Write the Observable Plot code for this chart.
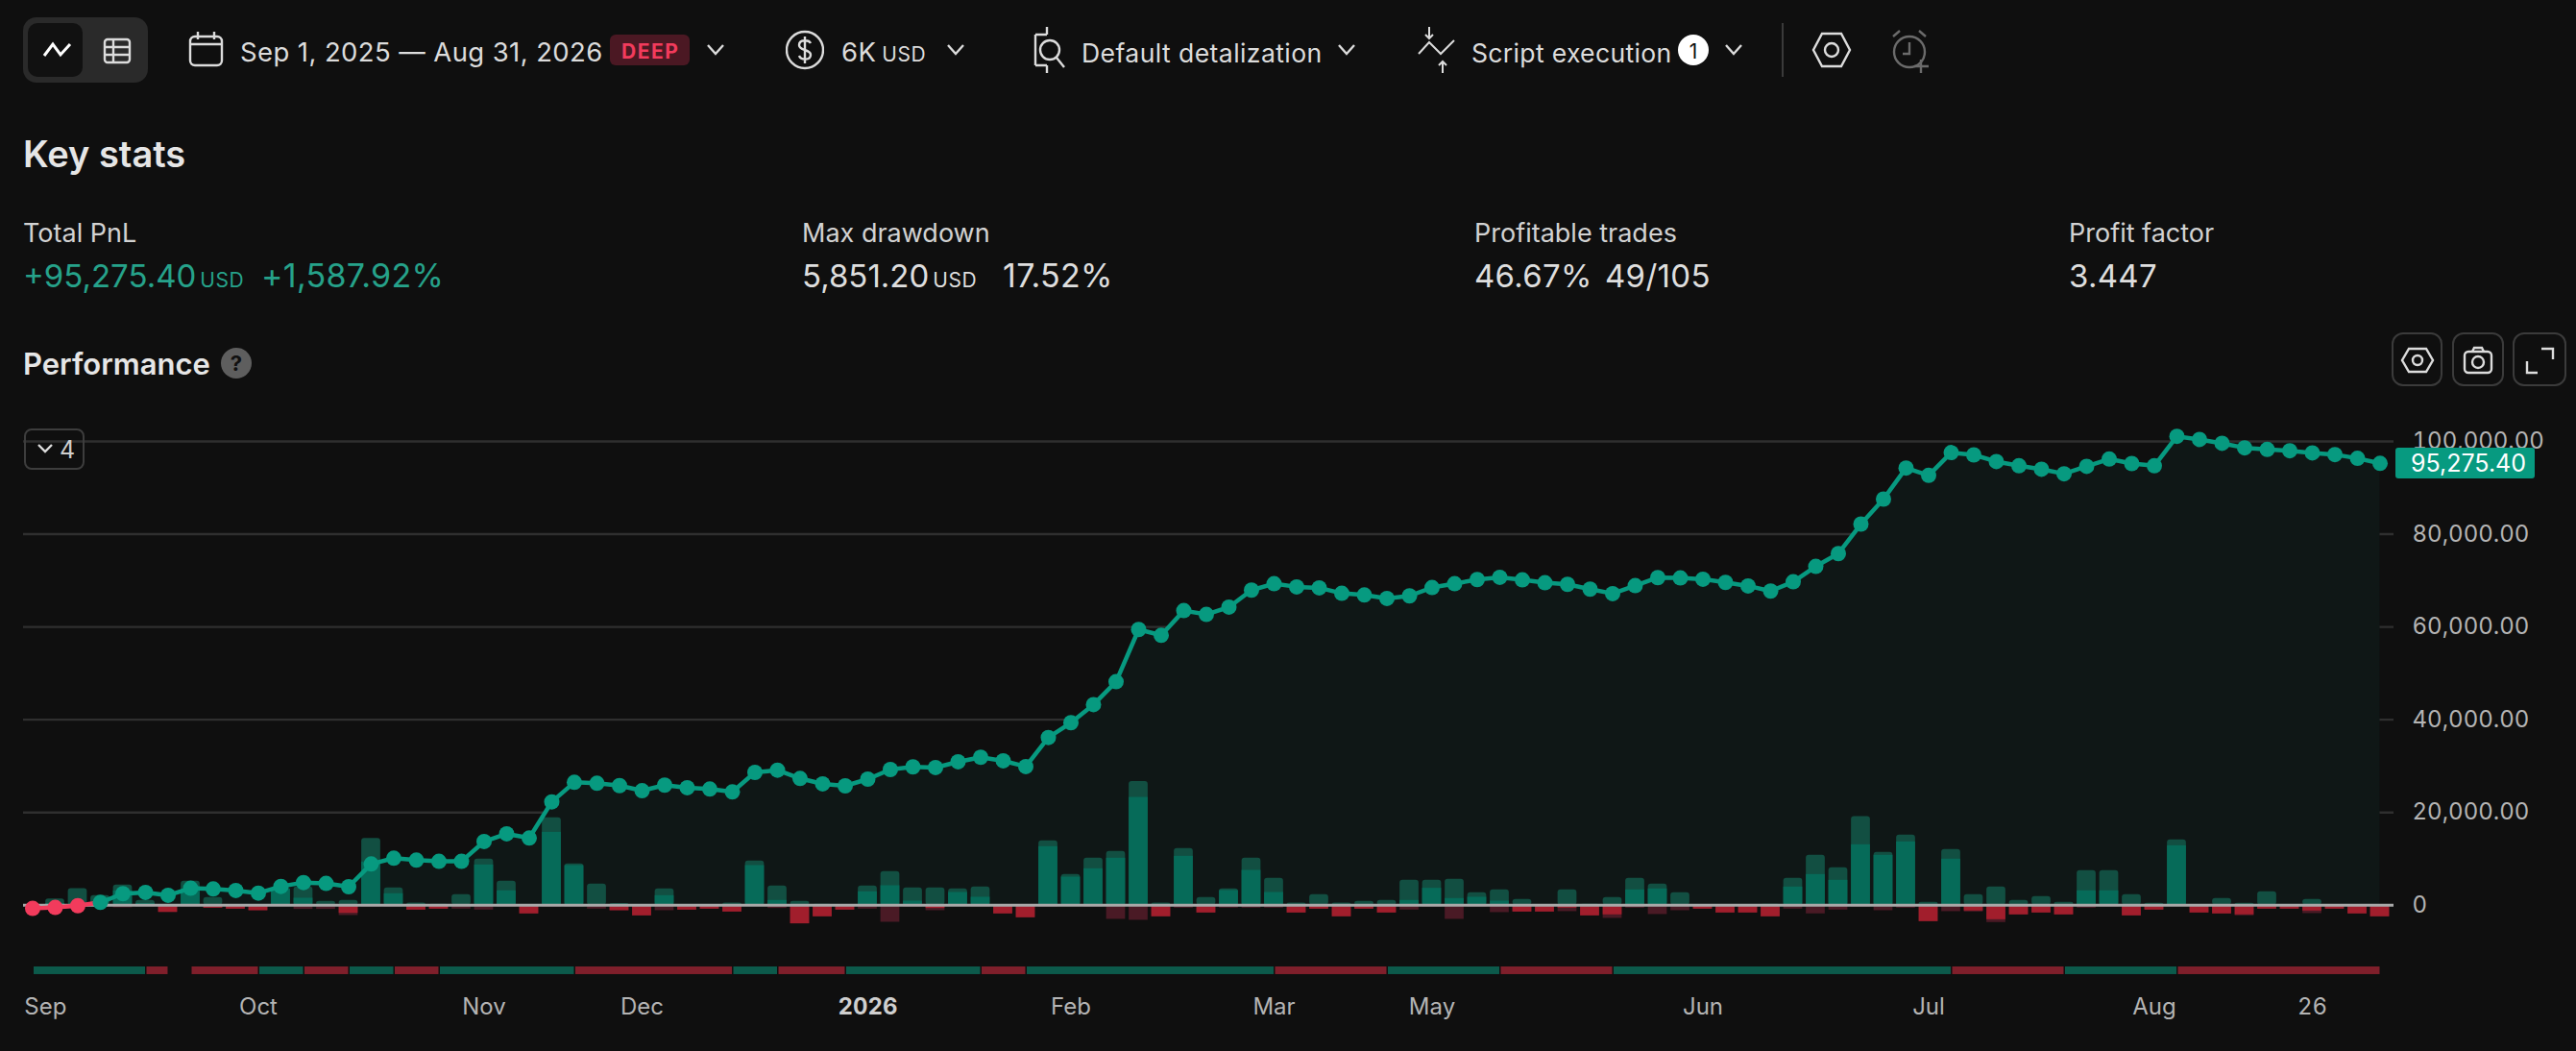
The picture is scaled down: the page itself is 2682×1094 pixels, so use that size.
<!DOCTYPE html>
<html><head><meta charset="utf-8">
<script src="https://cdn.jsdelivr.net/npm/d3@7"></script>
<script src="https://cdn.jsdelivr.net/npm/@observablehq/plot@0.6"></script>
<style>
html,body{margin:0;padding:0;background:#0f0f0f;width:2682px;height:1094px;overflow:hidden;font-family:Inter,sans-serif;color:#dcdcdc}
.t{position:absolute;white-space:nowrap;line-height:1;transform:translateY(-50%)}
.i{position:absolute;fill:none;stroke:#dcdcdc;stroke-width:2.4}
.u{font-size:21px;margin-left:4px;letter-spacing:.5px}
#chart{position:absolute;left:0;top:440px}
</style></head><body>
<script>
// Cumulative PnL after each of the 105 trades
const equity=[-690,-480,-100,620,2490,2760,2140,3660,3520,3180,
2620,4070,4900,4700,4000,8900,10150,9730,9460,9460,
13740,15400,14500,22300,26500,26300,25800,24700,25900,25340,
25060,24440,28650,29130,27340,26170,25750,27200,29270,29830,
29690,30930,31900,31140,29900,36170,39360,43260,48200,59450,
58200,63520,62700,64280,67950,69330,68640,68430,67250,66900,
66150,66700,68500,69330,70230,70710,70160,69540,69190,68150,
67190,68910,70640,70570,70300,69600,68840,67740,69740,73060,
75820,82180,87570,94270,92680,97590,97100,95660,94750,94000,
93030,94620,96210,95240,94750,101100,100420,99590,98620,98280,
98000,97520,97170,96350,95275];
// Bar heights as they stand on the axis
const runup=[0,1380,3590,2070,4350,1040,0,5180,1660,0,
0,3800,3930,830,1040,14420,3730,480,210,2280,
9940,5180,0,18840,8900,4550,350,0,3520,0,
0,480,9520,4140,830,210,0,4140,7250,3730,
3730,3520,3930,0,0,13870,6620,10140,11590,26700,
480,12210,1660,3520,10140,5800,480,2280,480,830,
1040,5380,5380,5590,2690,3310,1240,0,3310,210,
1660,5800,4550,2690,0,0,0,210,5800,10760,
8070,19110,11390,15110,620,12010,2280,3930,1040,1860,
620,7450,7450,2280,410,14080,0,1450,410,2900,
0,1240,0,0,0];
const pnl=[0,350,0,0,3110,350,-1520,3450,-620,-830,
-1170,3450,1520,0,-1730,9320,2480,-1040,-830,0,
8690,3110,-1860,15730,8560,0,-1170,-2280,2070,-1040,
-830,-1450,8560,1040,-4000,-2480,-1040,2900,4210,900,
-690,2760,1730,-1860,-2690,12630,6070,7870,10140,23250,
-2480,10560,-1660,3170,7520,2760,-1660,-830,-2480,-830,
-1660,1040,3660,1450,1730,900,-1450,-1450,-620,-2280,
-2070,3310,3520,0,-830,-1660,-1660,-2480,3930,6620,
5380,13040,10760,13660,-3520,9940,-1240,-3110,-2070,-1660,
-2070,3110,3110,-2280,-1040,12830,-1660,-1860,-2070,-830,
-830,-1240,-830,-1860,-2480];
const drawdown=[0,0,0,0,550,350,1590,350,620,830,
1170,0,900,900,2210,350,350,1040,830,830,
1040,350,1860,350,350,830,1170,2280,1170,1040,
830,1450,210,690,4000,2480,1040,830,3660,350,
1170,210,350,1860,2690,350,210,350,3040,3240,
2480,620,1660,620,620,620,1660,830,2480,830,
1660,1040,350,3040,350,1590,1450,1450,1380,2280,
2830,620,2000,1170,830,1660,1660,2480,830,1860,
1040,350,1170,620,3520,1380,1450,3730,2070,1660,
2070,620,350,2280,1040,210,1660,1860,2280,830,
830,1790,830,1860,2480];
// Position strip (start trade, end trade, direction)
const stripStart=[0,5,7,10,12,14,16,18,24,31,33,36,42,44,55,60,65,70,85,90,95];
const stripEnd=[5,6,10,12,14,16,18,24,31,33,36,42,44,55,60,65,70,85,90,95,104];
const stripLong=[1,0,0,1,0,1,0,1,0,1,0,1,0,1,0,1,0,1,0,1,0];
// Axis
const monthTicks=[0.57,10,20,27,46,55,62,74,84,94,101];
const monthLabels=["Sep","Oct","Nov","Dec","Feb","Mar","May","Jun","Jul","Aug","26"];
const yearTicks=[37];
const yearLabels=["2026"];
const valueTicks=[0,20000,40000,60000,80000,100000];
const stripBand=[-13300,-14950];

const rows=equity.map((v,i)=>({i,v,run:runup[i],pnl:pnl[i],dd:-drawdown[i]}));
const segs=stripStart.map((s,k)=>({s,e:stripEnd[k],long:stripLong[k]}));
const TEAL="#079a80",PINK="#f23b5c";
const bar=(key,fill,opts={})=>Plot.rectY(rows,{x1:d=>d.i-.42,x2:d=>d.i+.42,y1:0,y2:key,fill,...opts});
const chart=Plot.plot({
  width:2682,height:654,marginLeft:24,marginRight:190,marginTop:6,marginBottom:64,
  style:{background:"transparent",fontFamily:"Inter,sans-serif",overflow:"visible"},
  x:{domain:[-0.404,104.617]},
  y:{domain:[-18270,102690]},
  marks:[
    Plot.ruleY(valueTicks.filter(d=>d>0),{stroke:"#2f2f2f",strokeWidth:2.4}),
    Plot.areaY(rows.slice(2),{x:"i",y1:0,y2:"v",fill:"#0f1716"}),
    Plot.rect(segs,{x1:"s",x2:"e",y1:stripBand[0],y2:stripBand[1],insetLeft:1.5,fill:d=>d.long?"#0c5a4b":"#7f1f2b"}),
    bar("run","#124f42",{rx:3}),
    bar("dd","#4a1a25"),
    bar(d=>d.pnl>0?d.pnl:0,"#066b59"),
    bar(d=>d.pnl<0?d.pnl:0,"#a11e2c"),
    Plot.ruleY([0],{stroke:"#a8a8a8",strokeWidth:3}),
    Plot.line(rows,{x:"i",y:"v",z:null,stroke:d=>d.v<0?PINK:TEAL,strokeWidth:4.5}),
    Plot.dot(rows,{x:"i",y:"v",r:8,fill:d=>d.v<0?PINK:TEAL}),
    Plot.axisX({ticks:monthTicks,tickFormat:d=>monthLabels[monthTicks.indexOf(d)],tickSize:0,tickPadding:8,fontSize:24,fill:"#b4b4b4",label:null,anchor:"bottom"}),
    Plot.axisX({ticks:yearTicks,tickFormat:d=>yearLabels[yearTicks.indexOf(d)],tickSize:0,tickPadding:8,fontSize:24,fontWeight:700,fill:"#cfcfcf",label:null,anchor:"bottom"}),
    Plot.axisY({ticks:valueTicks,tickFormat:d=>d===0?"0":d3.format(",.2f")(d),tickSize:0,tickPadding:19,fontSize:24,fill:"#b4b4b4",label:null,anchor:"right"})
  ]
});
chart.id="chart";
document.body.appendChild(chart);

function T(x,y,html,st){const d=document.createElement("div");d.className="t";d.style.cssText=`left:${x}px;top:${y}px;${st||""}`;d.innerHTML=html;document.body.appendChild(d);return d}
function Box(x,y,w,h,st){const d=document.createElement("div");d.style.cssText=`position:absolute;left:${x}px;top:${y}px;width:${w}px;height:${h}px;box-sizing:border-box;${st}`;document.body.appendChild(d);return d}
function Icon(x,y,w,h,inner,st){const ns=document.createElement("div");ns.innerHTML=`<svg class="i" style="left:${x}px;top:${y}px;${st||""}" width="${w}" height="${h}" viewBox="0 0 ${w} ${h}">${inner}</svg>`;document.body.appendChild(ns.firstChild)}
const chev=(x,y=52)=>Icon(x-10,y-7,20,14,'<path d="M2 2 L10 11 L18 2"/>');

// toolbar
Box(24,18,130,68,"background:#2a2a2a;border-radius:14px");
Box(29,24,57,56,"background:#111;border-radius:10px");
Icon(44,42,32,20,'<path d="M2 16 L11 4 L19 15 L29 4" stroke="#fff" stroke-width="3"/>');
Icon(107,38,30,30,'<rect x="2" y="3" width="26" height="24" rx="3"/><path d="M2 11H28M2 19H28M11 3V27"/>');
Icon(196,32,37,38,'<rect x="2" y="6" width="33" height="30" rx="5"/><path d="M2 14H35M10 1V9M27 1V9"/>');
T(250,55,"Sep 1, 2025 — Aug 31, 2026","font-size:27.5px;letter-spacing:.4px");
Box(635,36,83,32,"background:#4b1823;border-radius:6px");
T(647,52.5,"DEEP","font-size:21px;font-weight:700;color:#f23b5c;letter-spacing:1.5px");
chev(745);
Icon(818,30,40,44,'<circle cx="20" cy="22" r="19"/><path d="M26 15c-2-4-12-4-12 2s12 4 12 10-10 6-12 1M20 8V36"/>');
T(876,55,'6K<span class="u" style="margin-left:6px">USD</span>',"font-size:27.5px;letter-spacing:.4px");
chev(995);
Icon(1076,26,36,52,'<path d="M14 2V10M14 42V50M2 10H14M2 42H14M2 10V42"/><circle cx="17" cy="26" r="10"/><path d="M24 34L32 44"/>');
T(1126,55,"Default detalization","font-size:26.6px;letter-spacing:.4px");
chev(1402);
Icon(1476,28,42,48,'<path d="M12 0V12M8 8L12 12L16 8M26 48V36M22 40L26 36L30 40M1 28L12 16L24 28L38 14" stroke-width="2"/>');
T(1532,55,"Script execution","font-size:26.6px;letter-spacing:.3px");
Box(1747,36,32,32,"background:#fff;border-radius:16px");
T(1763,52.5,"1","font-size:21px;color:#111;transform:translate(-50%,-50%)");
chev(1805);
Box(1855,24,2,56,"background:#3a3a3a");
Icon(1886,32,42,40,'<path d="M11 3H31L40 20L31 37H11L2 20Z"/><circle cx="21" cy="20" r="7"/>');
Icon(1968,30,42,46,'<circle cx="20" cy="24" r="16"/><path d="M20 14V26H13M3 8L10 2M37 8L30 2M32 32V46M25 39H40"/>',"stroke:#6b6b6b");

// key stats
T(24,160,"Key stats","font-size:38px;font-weight:600;color:#e6e6e6");
const labelSt="font-size:27px;color:#d2d2d2", valSt="font-size:33px;color:#dedede;letter-spacing:.3px", pctSt="font-size:34px;color:#dedede;letter-spacing:.3px";
T(24,241.5,"Total PnL",labelSt);T(835,241.5,"Max drawdown",labelSt);T(1535,241.5,"Profitable trades",labelSt);T(2154,241.5,"Profit factor",labelSt);
T(24,287,'+95,275.40<span class="u">USD</span>',"font-size:33px;letter-spacing:0;color:#26a28a");
T(272,287,"+1,587.92%",pctSt+";color:#26a28a");
T(835,287,'5,851.20<span class="u">USD</span>',"font-size:33px;letter-spacing:0;color:#dedede");
T(1044,287,"17.52%",pctSt);
T(1535,287,"46.67%",valSt);T(1671,287,"49/105",valSt);
T(2154,287,"3.447",valSt);

// performance header
T(24,378,"Performance","font-size:31px;font-weight:600;color:#e6e6e6");
Box(230,362,32,32,"background:#5e5e5e;border-radius:16px");
T(246,378,"?","font-size:22px;font-weight:700;color:#111;transform:translate(-50%,-50%)");
[[2490,53],[2553,54],[2616,56]].forEach(([x,w])=>Box(x,346,w,56,"border:2px solid #3b3b3b;border-radius:12px"));
Icon(2499,361,36,28,'<path d="M9 2H27L34 14L27 26H9L2 14Z"/><circle cx="18" cy="14" r="5"/>');
Icon(2563,360,34,30,'<rect x="3" y="6" width="28" height="22" rx="4"/><path d="M11 6L13 2H21L23 6"/><circle cx="17" cy="17" r="6"/>');
Icon(2628,360,32,30,'<path d="M18 3H30V14M3 16V28H14"/>');
Box(25,446,63,43,"border:2px solid #3d3d3d;border-radius:8px");
Icon(38,461,18,12,'<path d="M2 2L9 9L16 2"/>');
T(62,467.5,"4","font-size:25px;color:#cfcfcf");

// last-value tag
Box(2494,466,144.5,32,"background:#079a80;border-radius:3px");
T(2570,482,"95,275.40","font-size:25px;color:#fff;transform:translate(-50%,-50%)");
</script>
</body></html>
